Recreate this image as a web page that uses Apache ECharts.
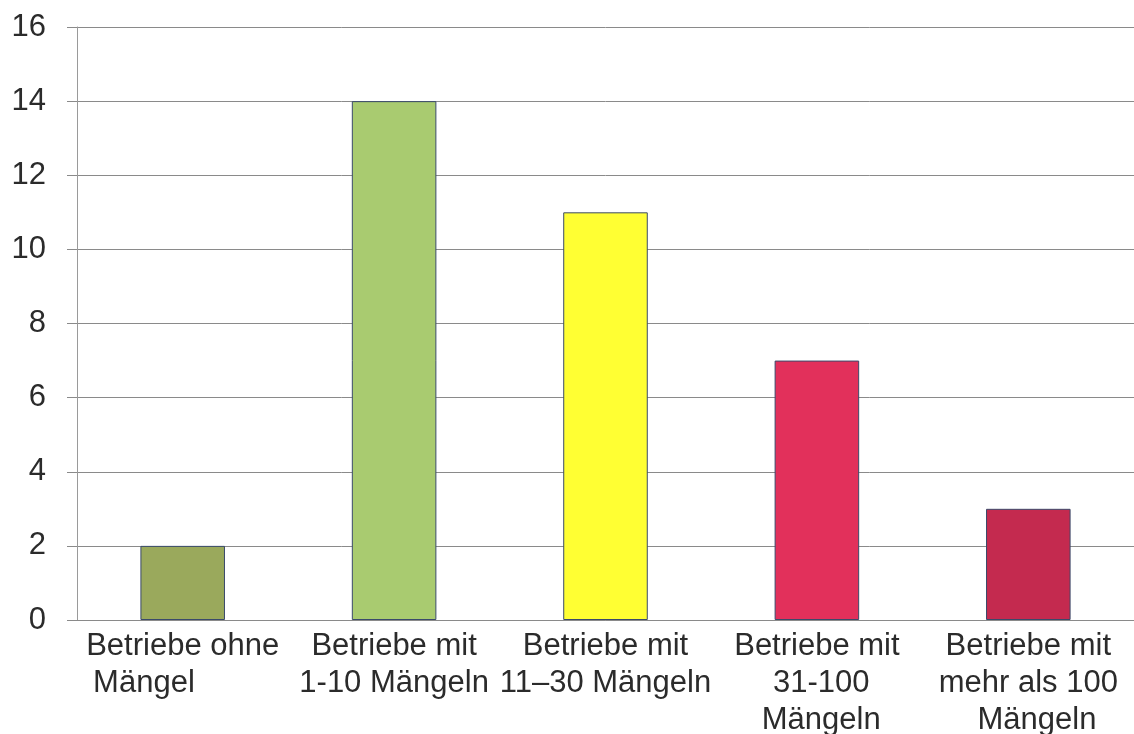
<!DOCTYPE html>
<html>
<head>
<meta charset="utf-8">
<script src="https://cdn.jsdelivr.net/npm/echarts@6/dist/echarts.min.js"></script>
<style>
  html, body { margin: 0; padding: 0; background: #fff; }
  #main { width: 1134px; height: 734px; }
</style>
</head>
<body>
<div id="main"></div>
<script>
// Kategorien und Werte
var categories = [
    'Betriebe ohne\nMängel         ',
    'Betriebe mit\n1-10 Mängeln',
    'Betriebe mit\n11\u201330 Mängeln',
    'Betriebe mit\n 31-100\n Mängeln',
    'Betriebe mit\nmehr als 100\n  Mängeln'
];
var values = [2, 14, 11, 7, 3];
var barColors = ['#9aa95c', '#a9cb70', '#ffff33', '#e2305b', '#c42a4f'];
var yTicks = [0, 2, 4, 6, 8, 10, 12, 14, 16];

var chart = echarts.init(document.getElementById('main'));

var data = [];
for (var i = 0; i < values.length; i++) {
    data.push({
        value: values[i],
        itemStyle: { color: barColors[i] }
    });
}

chart.setOption({
    animation: false,
    grid: { left: 77, right: 0, top: 27, bottom: 114, outerBoundsMode: 'none', containLabel: false },
    xAxis: {
        type: 'category',
        data: categories,
        axisLine: { lineStyle: { color: '#8a8a8a', width: 1 } },
        axisTick: { show: false },
        axisLabel: {
            interval: 0,
            color: '#2b2b2b',
            fontFamily: 'Liberation Sans, Arial, sans-serif',
            fontSize: 31,
            lineHeight: 37,
            margin: 8
        }
    },
    yAxis: {
        type: 'value',
        min: yTicks[0],
        max: yTicks[yTicks.length - 1],
        interval: 2,
        axisLine: { show: true, lineStyle: { color: '#9a9a9a', width: 1 } },
        axisTick: { show: true, length: 10, lineStyle: { color: '#8a8a8a' } },
        splitLine: { lineStyle: { color: '#8a8a8a', width: 1 } },
        axisLabel: {
            color: '#2b2b2b',
            fontFamily: 'Liberation Sans, Arial, sans-serif',
            fontSize: 31,
            margin: 31
        }
    },
    series: [{
        type: 'bar',
        data: data,
        barWidth: '40%',
        itemStyle: { borderColor: '#3a4a6a', borderWidth: 1 }
    }]
});
</script>
</body>
</html>
